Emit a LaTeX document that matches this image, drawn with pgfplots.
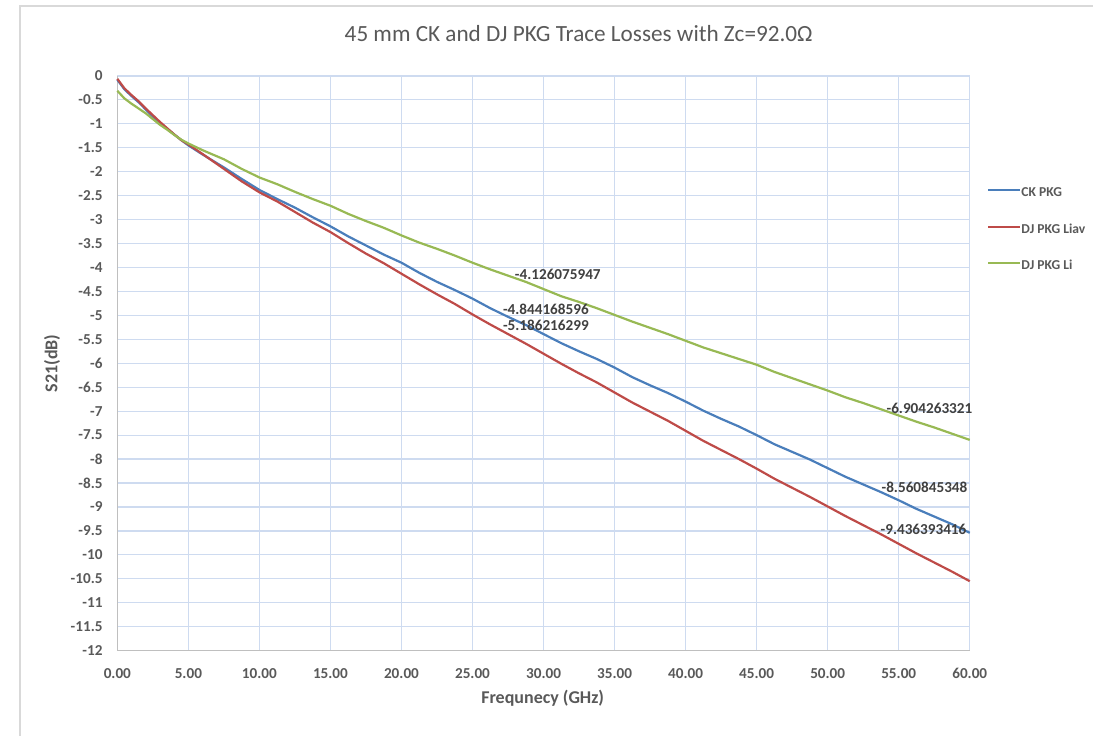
\documentclass[border=0pt]{standalone}
\usepackage{pgfplots}
\pgfplotsset{compat=1.18}
\usepackage{fontspec}
\setmainfont{Carlito}
\definecolor{cblue}{RGB}{74,126,187}
\definecolor{cred}{RGB}{190,75,72}
\definecolor{cgreen}{RGB}{152,185,84}
\definecolor{gridc}{RGB}{206,219,240}
\definecolor{axisc}{RGB}{191,191,191}
\definecolor{txt}{RGB}{89,89,89}
\definecolor{lbl}{RGB}{64,64,64}
\definecolor{framec}{RGB}{217,217,217}

\pgfplotstableread{
f     v
0     -0.08
0.5   -0.28
1.0   -0.42
1.5   -0.55
2.0   -0.70
2.5   -0.85
3.0   -0.98
3.5   -1.10
4.0   -1.22
4.5   -1.34
5.0   -1.45
6.0   -1.64
7.5   -1.91
8.75  -2.15
10    -2.38
11.25 -2.57
12.5  -2.75
13.75 -2.95
15    -3.14
16.25 -3.35
17.5  -3.54
18.75 -3.73
20    -3.90
21.25 -4.11
22.5  -4.30
23.75 -4.47
25    -4.65
26.25 -4.85
27.5  -5.03
28.75 -5.20
30    -5.39
31.25 -5.58
32.5  -5.75
33.75 -5.91
35    -6.09
36.25 -6.29
37.5  -6.46
38.75 -6.62
40    -6.80
41.25 -6.99
42.5  -7.16
43.75 -7.32
45    -7.50
46.25 -7.69
47.5  -7.85
48.75 -8.01
50    -8.19
51.25 -8.37
52.5  -8.53
53.75 -8.69
55    -8.86
56.25 -9.04
57.5  -9.20
58.75 -9.36
60    -9.54
}\ckpkg

\pgfplotstableread{
f     v
0     -0.06
0.5   -0.26
1.0   -0.40
1.5   -0.53
2.0   -0.68
2.5   -0.82
3.0   -0.96
3.5   -1.09
4.0   -1.22
4.5   -1.34
5.0   -1.43
6.0   -1.63
7.5   -1.94
8.75  -2.20
10    -2.43
11.25 -2.62
12.5  -2.84
13.75 -3.06
15    -3.26
16.25 -3.49
17.5  -3.71
18.75 -3.91
20    -4.13
21.25 -4.35
22.5  -4.56
23.75 -4.76
25    -4.98
26.25 -5.19
27.5  -5.39
28.75 -5.59
30    -5.80
31.25 -6.01
32.5  -6.21
33.75 -6.40
35    -6.61
36.25 -6.82
37.5  -7.01
38.75 -7.20
40    -7.41
41.25 -7.62
42.5  -7.81
43.75 -8.00
45    -8.20
46.25 -8.41
47.5  -8.60
48.75 -8.79
50    -8.99
51.25 -9.19
52.5  -9.38
53.75 -9.57
55    -9.77
56.25 -9.97
57.5  -10.16
58.75 -10.35
60    -10.55
}\djliav

\pgfplotstableread{
f     v
0     -0.31
0.5   -0.47
1.0   -0.58
1.5   -0.68
2.0   -0.78
2.5   -0.90
3.0   -1.02
3.5   -1.12
4.0   -1.23
4.5   -1.33
5.0   -1.41
6.0   -1.55
7.5   -1.74
8.75  -1.94
10    -2.12
11.25 -2.26
12.5  -2.42
13.75 -2.57
15    -2.71
16.25 -2.88
17.5  -3.03
18.75 -3.17
20    -3.33
21.25 -3.48
22.5  -3.61
23.75 -3.75
25    -3.90
26.25 -4.04
27.5  -4.17
28.75 -4.30
30    -4.45
31.25 -4.60
32.5  -4.72
33.75 -4.85
35    -4.99
36.25 -5.13
37.5  -5.26
38.75 -5.39
40    -5.53
41.25 -5.67
42.5  -5.79
43.75 -5.91
45    -6.03
46.25 -6.18
47.5  -6.31
48.75 -6.44
50    -6.57
51.25 -6.71
52.5  -6.83
53.75 -6.96
55    -7.09
56.25 -7.22
57.5  -7.34
58.75 -7.47
60    -7.60
}\djli

\begin{document}
\begin{tikzpicture}
\path (-58.7pt,-42.5pt) rectangle (488.3pt,325.5pt);
\draw[framec, line width=0.6pt] (-48.7pt,-42.5pt) -- (-48.7pt,322.5pt) -- (488.3pt,322.5pt);
\begin{axis}[
  at={(0pt,0pt)}, anchor=south west,
  scale only axis,
  width=426.45pt, height=287.5pt,
  xmin=0, xmax=60, ymin=-12, ymax=0,
  xtick={0,5,...,60},
  ytick={-12,-11.5,...,0},
  grid=major,
  major grid style={gridc, line width=0.6pt},
  axis x line*=bottom, axis y line*=left,
  axis line style={axisc, line width=0.8pt},
  major tick length=0pt,
  clip=false,
  /pgf/number format/assume math mode=true,
  tick label style={font=\fontsize{7.6}{9}\selectfont\bfseries, text=txt},
  xticklabel={\textbf{\pgfmathprintnumber[fixed,fixed zerofill,precision=2]{\tick}}},
  yticklabel={\textbf{\pgfmathprintnumber[fixed]{\tick}}},
  xticklabel style={inner sep=0pt, anchor=north, yshift=-8.6pt},
  yticklabel style={inner sep=0pt, anchor=east, xshift=-7.2pt},
  title={45 mm CK and DJ PKG Trace Losses with Zc=92.0Ω},
  title style={font=\fontsize{11.6}{13}\selectfont, text=txt, at={(axis description cs:0.5412,1.0522)}, anchor=center, yshift=0pt, inner sep=0pt},
  xlabel={Frequnecy (GHz)},
  xlabel style={font=\bfseries\fontsize{9}{11}\selectfont, text=txt, at={(axis description cs:0.499,-0.083)}, anchor=center, inner sep=0pt},
  ylabel={S21(dB)},
  ylabel style={font=\bfseries\fontsize{9}{11}\selectfont, text=txt, at={(axis description cs:-0.0765,0.5)}, anchor=center, inner sep=0pt},
  legend style={at={(rel axis cs:1.0208,0.8075)}, anchor=north west, draw=none, fill=none,
    inner sep=0pt, outer sep=0pt, row sep=13.25pt,
    font=\bfseries\fontsize{6.8}{8}\selectfont, text=txt,
    nodes={inner sep=0pt, text height=5pt, text depth=0pt},
    /tikz/every even column/.append style={column sep=1.4pt}},
  legend cell align=left,
  legend image code/.code={\draw[#1, line width=1pt] (0pt,0.6pt) -- (16pt,0.6pt);},
]
\addplot[cblue, line width=1.1pt] table[x=f,y=v] {\ckpkg};
\addlegendentry{CK PKG}
\addplot[cred, line width=1.1pt] table[x=f,y=v] {\djliav};
\addlegendentry{DJ PKG Liav}
\addplot[cgreen, line width=1.1pt] table[x=f,y=v] {\djli};
\addlegendentry{DJ PKG Li}
\begin{scope}[every node/.style={font=\bfseries\fontsize{7.6}{9}\selectfont, text=lbl, inner sep=0pt, anchor=west}]
\node at (axis cs:27.96,-4.15) {-4.126075947};
\node at (axis cs:27.12,-4.88) {-4.844168596};
\node at (axis cs:27.12,-5.20) {-5.186216299};
\node at (axis cs:54.12,-6.95) {-6.904263321};
\node at (axis cs:53.77,-8.60) {-8.560845348};
\node at (axis cs:53.70,-9.47) {-9.436393416};
\end{scope}
\end{axis}
\end{tikzpicture}
\end{document}
